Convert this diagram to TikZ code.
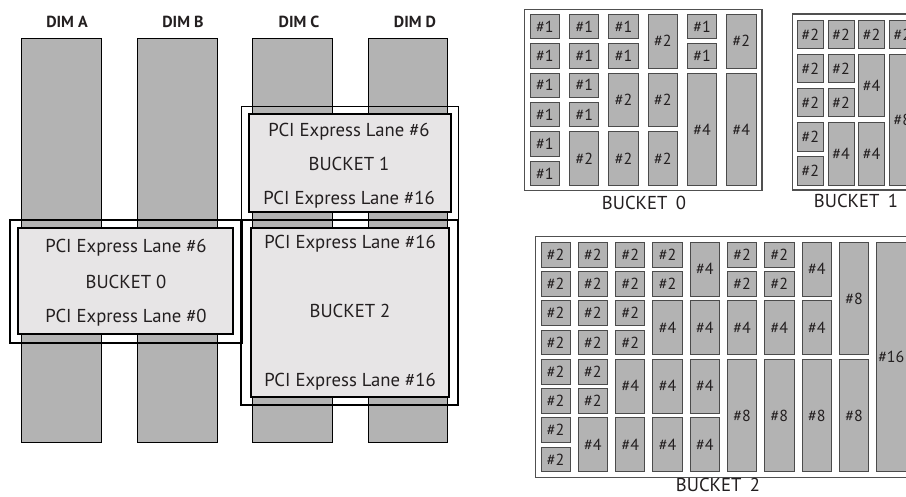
\documentclass[tikz,border=0pt]{standalone}
\usepackage{fontspec}
\setmainfont{PT Sans}
\definecolor{bargray}{RGB}{179,179,179}
\definecolor{boxlight}{RGB}{231,229,230}
\definecolor{cellline}{RGB}{75,75,75}
\definecolor{gridline}{RGB}{80,80,80}
\definecolor{ink}{RGB}{35,31,32}
\tikzset{
  bar/.style={draw=black, fill=bargray, line width=1pt, inner sep=0pt, outer sep=0pt, anchor=north west},
  outerbox/.style={draw=black, line width=1.6pt},
  outerthin/.style={draw=black, line width=1pt},
  innerbox/.style={draw=black, fill=boxlight, line width=1.2pt, inner sep=0pt, outer sep=0pt, anchor=north west},
  lbl/.style={font=\fontsize{18.7}{22}\selectfont, text=ink, inner sep=0pt, anchor=base},
  dimlbl/.style={font=\bfseries\fontsize{16}{19}\selectfont, text=ink, inner sep=0pt},
  gcell/.style={draw=cellline, fill=bargray, line width=0.9pt, inner sep=0pt, outer sep=0pt, anchor=north west, font=\fontsize{16}{18}\selectfont, text=ink},
  gridbox/.style={draw=gridline, line width=1.5pt},
}
% grid cell: name, column, row, row span, label
\newcommand\gnode[5]{%
  \pgfmathsetmacro\gxa{\gx+(#2-1)*\gpx}%
  \pgfmathsetmacro\gya{\gy+(#3-1)*\gpy}%
  \pgfmathsetmacro\ghh{(#4-1)*\gpy+\gh}%
  \node[gcell, minimum width=\gw pt, minimum height=\ghh pt] (#1) at (\gxa,\gya) {#5};}
\begin{document}
\begin{tikzpicture}[x=1pt,y=-1pt]
\clip (0,0) rectangle (906,497);
\fill[white] (0,0) rectangle (906,497);
% ---------- left: DIMs ----------
\node[dimlbl] (dA) at (67,22) {DIM A};
\node[dimlbl] (dB) at (183,22) {DIM B};
\node[dimlbl] (dC) at (299,22) {DIM C};
\node[dimlbl] (dD) at (415,22) {DIM D};
\node[bar, minimum width=79.3pt, minimum height=403pt] (barA) at (21.7,39) {};
\node[bar, minimum width=80pt, minimum height=403pt] (barB) at (137,39) {};
\node[bar, minimum width=80pt, minimum height=403pt] (barC) at (252,39) {};
\node[bar, minimum width=79pt, minimum height=403pt] (barD) at (368,39) {};
% outer frames
\draw[outerthin] (241,107) rectangle (458,220);
\draw[outerbox] (10,220) rectangle (242,343);
\draw[outerbox] (241,220) rectangle (458,405);
% inner boxes
\node[innerbox, minimum width=202pt, minimum height=98pt] (ib1) at (249,114) {};
\node[innerbox, minimum width=215pt, minimum height=106pt] (ib0) at (18,228) {};
\node[innerbox, minimum width=198pt, minimum height=169pt] (ib2) at (251,228) {};
\node[lbl] (t1a) at (349,136.5) {PCI Express Lane \#6};
\node[lbl] (t1b) at (349,170.5) {BUCKET 1};
\node[lbl] (t1c) at (349,204.5) {PCI Express Lane \#16};
\node[lbl] (t0a) at (126,252.5) {PCI Express Lane \#6};
\node[lbl] (t0b) at (126,288.5) {BUCKET 0};
\node[lbl] (t0c) at (126,322.5) {PCI Express Lane \#0};
\node[lbl] (t2a) at (350,248.5) {PCI Express Lane \#16};
\node[lbl] (t2b) at (350,317.5) {BUCKET 2};
\node[lbl] (t2c) at (350,386.5) {PCI Express Lane \#16};
% ---------- right: bucket 0 grid ----------
\draw[gridbox] (524.7,9.3) rectangle (762,190.7);
\def\gx{530.3}\def\gpx{39.3}\def\gw{29.3}\def\gy{14.3}\def\gpy{29.35}\def\gh{24.6}
\foreach \r in {1,...,6} {\gnode{a1\r}{1}{\r}{1}{\#1}}
\foreach \r in {1,...,4} {\gnode{a2\r}{2}{\r}{1}{\#1}}
\gnode{a25}{2}{5}{2}{\#2}
\gnode{a31}{3}{1}{1}{\#1}
\gnode{a32}{3}{2}{1}{\#1}
\gnode{a33}{3}{3}{2}{\#2}
\gnode{a35}{3}{5}{2}{\#2}
\gnode{a41}{4}{1}{2}{\#2}
\gnode{a43}{4}{3}{2}{\#2}
\gnode{a45}{4}{5}{2}{\#2}
\gnode{a51}{5}{1}{1}{\#1}
\gnode{a52}{5}{2}{1}{\#1}
\gnode{a53}{5}{3}{4}{\#4}
\gnode{a61}{6}{1}{2}{\#2}
\gnode{a63}{6}{3}{4}{\#4}
\node[lbl] (gl0) at (644,210) {BUCKET\hspace{0.45em}0};
% ---------- bucket 1 grid ----------
\draw[gridbox] (792.7,14) rectangle (920,190);
\def\gx{797.3}\def\gpx{30.7}\def\gw{26}\def\gy{20}\def\gpy{34.1}\def\gh{28.7}
\foreach \r in {1,...,5} {\gnode{b1\r}{1}{\r}{1}{\#2}}
\foreach \r in {1,...,3} {\gnode{b2\r}{2}{\r}{1}{\#2}}
\gnode{b24}{2}{4}{2}{\#4}
\gnode{b31}{3}{1}{1}{\#2}
\gnode{b32}{3}{2}{2}{\#4}
\gnode{b34}{3}{4}{2}{\#4}
\gnode{b41}{4}{1}{1}{\#2}
\gnode{b42}{4}{2}{4}{\#8}
\node[lbl] (gl1) at (856,208) {BUCKET\hspace{0.45em}1};
% ---------- bucket 2 grid ----------
\draw[gridbox] (535.7,236.7) rectangle (920,477.3);
\def\gx{541}\def\gpx{37.3}\def\gw{29.3}\def\gy{242.3}\def\gpy{29.24}\def\gh{24.7}
\foreach \r in {1,...,8} {\gnode{c1\r}{1}{\r}{1}{\#2}}
\foreach \r in {1,...,6} {\gnode{c2\r}{2}{\r}{1}{\#2}}
\gnode{c27}{2}{7}{2}{\#4}
\foreach \r in {1,...,4} {\gnode{c3\r}{3}{\r}{1}{\#2}}
\gnode{c35}{3}{5}{2}{\#4}
\gnode{c37}{3}{7}{2}{\#4}
\gnode{c41}{4}{1}{1}{\#2}
\gnode{c42}{4}{2}{1}{\#2}
\foreach \r in {3,5,7} {\gnode{c4\r}{4}{\r}{2}{\#4}}
\foreach \r in {1,3,5,7} {\gnode{c5\r}{5}{\r}{2}{\#4}}
\foreach \c in {6,7} {
  \gnode{c\c1}{\c}{1}{1}{\#2}
  \gnode{c\c2}{\c}{2}{1}{\#2}
  \gnode{c\c3}{\c}{3}{2}{\#4}
  \gnode{c\c5}{\c}{5}{4}{\#8}
}
\gnode{c81}{8}{1}{2}{\#4}
\gnode{c83}{8}{3}{2}{\#4}
\gnode{c85}{8}{5}{4}{\#8}
\gnode{c91}{9}{1}{4}{\#8}
\gnode{c95}{9}{5}{4}{\#8}
\gnode{c101}{10}{1}{8}{\#16}
\node[lbl] (gl2) at (718,491.5) {BUCKET\hspace{0.45em}2};
\end{tikzpicture}
\end{document}
